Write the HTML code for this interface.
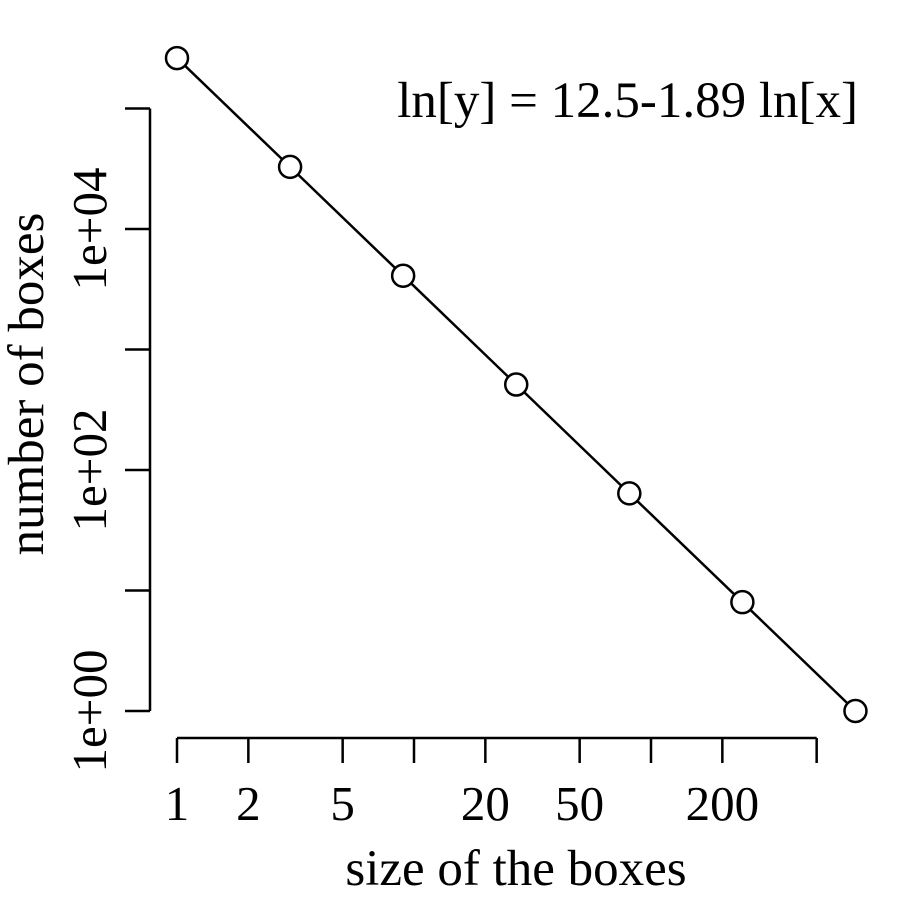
<!DOCTYPE html>
<html><head><meta charset="utf-8"><style>
html,body{margin:0;padding:0;background:#fff}
svg text{font-family:"Liberation Serif",serif;fill:#000}
</style></head><body>
<svg id="chart" width="900" height="900" viewBox="0 0 900 900">
<g id="axes"></g><g id="marks"></g>
<text x="858" y="117" font-size="51" text-anchor="end">ln[y] = 12.5-1.89 ln[x]</text>
<text x="516" y="885" font-size="51" text-anchor="middle">size of the boxes</text>
<text transform="translate(43,384) rotate(-90)" font-size="51" text-anchor="middle">number of boxes</text>
</svg>
<script>
const boxSizes=[1,3,9,27,81,243,729];
const boxCounts=[262144,32768,4096,512,64,8,1];
const xTicks=[1,2,5,10,20,50,100,200,500];
const xTickLabels=["1","2","5","","20","50","","200",""];
const yTicks=[1,10,100,1000,10000,100000];
const yTickLabels=["1e+00","","1e+02","","1e+04",""];
const NS="http://www.w3.org/2000/svg";
function xs(v){return 177+Math.log10(v)*237;}
function ys(v){return 711-Math.log10(v)*120.5;}
function mk(t,a,p){const e=document.createElementNS(NS,t);for(const k in a)e.setAttribute(k,a[k]);p.appendChild(e);return e;}
const ax=document.getElementById('axes'),mg=document.getElementById('marks');
const st={stroke:'#000','stroke-width':2.5,fill:'none'};
let l=mk('line',Object.assign({x1:xs(1),x2:xs(500),y1:738,y2:738},st),ax);


xTicks.forEach((t,i)=>{
 const tk=mk('line',Object.assign({x1:xs(t),x2:xs(t),y1:738,y2:763},st),ax);
 
 
 if(xTickLabels[i]){const tx=mk('text',{x:xs(t),y:820,'font-size':49,'text-anchor':'middle'},ax);tx.textContent=xTickLabels[i];
 
 }
});
l=mk('line',Object.assign({x1:150,x2:150,y1:ys(1),y2:ys(100000)},st),ax);


yTicks.forEach((t,i)=>{
 const tk=mk('line',Object.assign({x1:125,x2:150,y1:ys(t),y2:ys(t)},st),ax);
 
 
 if(yTickLabels[i]){const tx=mk('text',{transform:`translate(106,${ys(t)}) rotate(-90)`,'font-size':49,'text-anchor':'middle'},ax);tx.textContent=yTickLabels[i];
 
 }
});
const pts=boxSizes.map((s,i)=>xs(s)+','+ys(boxCounts[i])).join(' ');
const pl=mk('polyline',Object.assign({points:pts},st),mg);


boxSizes.forEach((s,i)=>{
 const c=mk('circle',{cx:xs(s),cy:ys(boxCounts[i]),r:11,fill:'#fff',stroke:'#000','stroke-width':2.5},mg);
 
 
});
</script>
</body></html>
